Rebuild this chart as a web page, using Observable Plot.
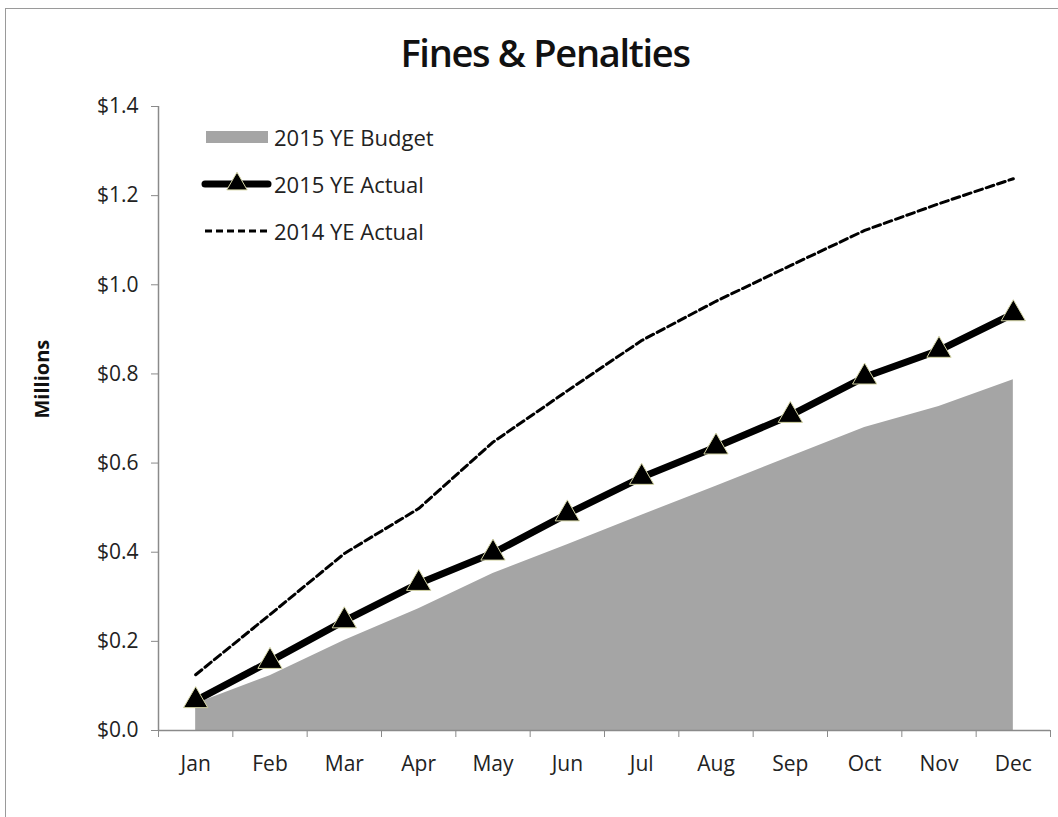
<!DOCTYPE html>
<html>
<head>
<meta charset="utf-8">
<script src="https://cdn.jsdelivr.net/npm/d3@7"></script>
<script src="https://cdn.jsdelivr.net/npm/@observablehq/plot@0.6"></script>
<style>
  html, body { margin: 0; padding: 0; background: #fff; }
  #wrap { position: relative; width: 1058px; height: 817px; overflow: hidden; font-family: "Open Sans", Lato, sans-serif; }
  #frame { position: absolute; left: 5px; top: 8px; width: 1060px; height: 820px; border-left: 1.5px solid #9a9a9a; border-top: 1.5px solid #9a9a9a; }
  #title { position: absolute; left: 16px; width: 1058px; top: 26px; text-align: center; font-family: "Open Sans", sans-serif; font-size: 38px; font-weight: 600; letter-spacing: -1.3px; color: #111; }
  #chart { position: absolute; left: 0; top: 0; }
  #legend { position: absolute; left: 200px; top: 113px; font-size: 22px; color: #222; }
  .row { display: flex; align-items: center; height: 47px; }
  .row svg { margin-right: 2px; }
</style>
</head>
<body>
<div id="wrap">
  <div id="frame"></div>
  <div id="chart"></div>
  <div id="title">Fines &amp; Penalties</div>
  <div id="legend"></div>
</div>
<script>
// ---- data (values in $ millions) ----
const months = ["Jan", "Feb", "Mar", "Apr", "May", "Jun", "Jul", "Aug", "Sep", "Oct", "Nov", "Dec"];
const budget2015 = [0.060, 0.123, 0.202, 0.273, 0.352, 0.417, 0.483, 0.548, 0.614, 0.680, 0.727, 0.787];
const actual2015 = [0.067, 0.155, 0.246, 0.330, 0.398, 0.486, 0.568, 0.636, 0.707, 0.793, 0.853, 0.935];
const actual2014 = [0.125, 0.260, 0.397, 0.498, 0.647, 0.762, 0.875, 0.963, 1.043, 1.122, 1.182, 1.238];
const yTicks = [0, 0.2, 0.4, 0.6, 0.8, 1.0, 1.2, 1.4];
const seriesNames = ["2015 YE Budget", "2015 YE Actual", "2014 YE Actual"];
const yLabel = "Millions";

const rows = months.map((m, i) => ({
  i: i + 1, month: m,
  budget: budget2015[i], actual: actual2015[i], prior: actual2014[i]
}));
const bounds = d3.range(0, months.length + 1).map(k => k + 0.5);
const axisColor = "#8a8a8a";

const chart = Plot.plot({
  width: 1058,
  height: 817,
  marginTop: 106,
  marginBottom: 87,
  marginLeft: 158,
  marginRight: 8,
  style: { fontFamily: "'Open Sans', Lato, sans-serif", fontSize: "21px", color: "#222", background: "transparent", overflow: "visible" },
  x: { type: "linear", domain: [0.5, months.length + 0.5] },
  y: { domain: [0, 1.4] },
  marks: [
    Plot.areaY(rows, { x: "i", y: "budget", fill: "#a5a5a5" }),
    Plot.line(rows, { x: "i", y: "prior", stroke: "#000", strokeWidth: 3, strokeDasharray: "8 4" }),
    Plot.line(rows, { x: "i", y: "actual", stroke: "#000", strokeWidth: 7, strokeLinejoin: "round" }),
    Plot.dot(rows, { x: "i", y: "actual", symbol: "triangle", r: 9, fill: "#000", stroke: "#d6d6a6", strokeWidth: 1 }),
    Plot.ruleY([0], { stroke: axisColor, strokeWidth: 1.5 }),
    Plot.ruleX([bounds[0]], { stroke: axisColor, strokeWidth: 1.5 }),
    Plot.axisY({ ticks: yTicks, tickFormat: d => "$" + d.toFixed(1), tickSize: 7, tickPadding: 13, stroke: axisColor, label: null }),
    Plot.axisX({ ticks: bounds, tickFormat: () => "", tickSize: 7, stroke: axisColor, label: null }),
    Plot.axisX({ ticks: rows.map(d => d.i), tickFormat: i => months[i - 1], tickSize: 0, tickPadding: 26, label: null }),
    Plot.text([yLabel], { frameAnchor: "left", rotate: -90, dx: -116, fontWeight: "bold", fontSize: 20, fill: "#111" })
  ]
});
document.getElementById("chart").appendChild(chart);

// ---- legend ----
const legend = d3.select("#legend");
function row(name, draw) {
  const r = legend.append("div").attr("class", "row");
  const s = r.append("svg").attr("width", 72).attr("height", 24);
  draw(s);
  r.append("span").text(name);
}
row(seriesNames[0], s => s.append("rect").attr("x", 6).attr("y", 6).attr("width", 62).attr("height", 12).attr("fill", "#a5a5a5"));
row(seriesNames[1], s => {
  s.append("line").attr("x1", 5).attr("x2", 68).attr("y1", 12).attr("y2", 12).attr("stroke", "#000").attr("stroke-width", 7).attr("stroke-linecap", "round");
  s.append("path").attr("d", d3.symbol(d3.symbolTriangle, 180)()).attr("transform", "translate(37,12)").attr("fill", "#000").attr("stroke", "#d6d6a6");
});
row(seriesNames[2], s => s.append("line").attr("x1", 5).attr("x2", 70).attr("y1", 12).attr("y2", 12).attr("stroke", "#000").attr("stroke-width", 2.8).attr("stroke-dasharray", "7 4"));
</script>
</body>
</html>
